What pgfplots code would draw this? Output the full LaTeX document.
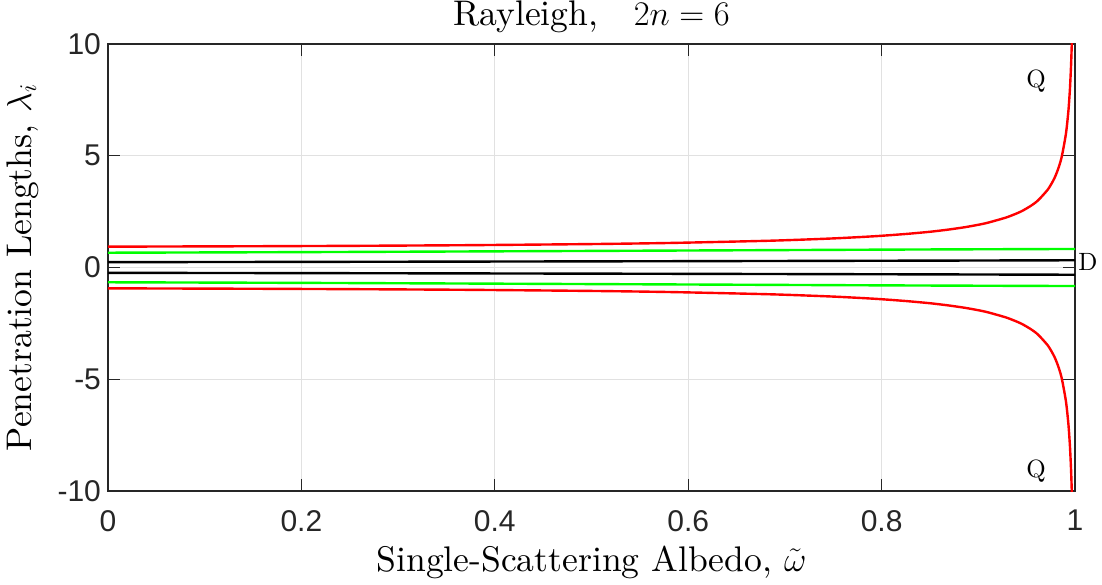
\documentclass[border=0pt]{standalone}
\usepackage{fontspec}
\usepackage{pgfplots}
\usepackage{pgfplotstable}
\pgfplotsset{compat=1.18}
\newfontfamily\tickfont{Liberation Sans}
\newfontfamily\lmten{lmroman10-regular.otf}
\definecolor{axgray}{RGB}{38,38,38}
\definecolor{gridgray}{RGB}{225,225,225}
\definecolor{mred}{RGB}{255,0,0}
\definecolor{mgreen}{RGB}{0,255,0}

\pgfplotstableread{
w lam
0 0.9325
0.1404 0.95
0.2561 0.97
0.3762 1.0
0.5026 1.05
0.5839 1.1
0.6859 1.2
0.7493 1.3
0.7932 1.4
0.8250 1.5
0.8503 1.6
0.8697 1.7
0.8857 1.8
0.8986 1.9
0.9095 2.0
0.9297 2.25
0.9439 2.5
0.9540 2.75
0.9617 3.0
0.9721 3.5
0.97878 4.0
0.98329 4.5
0.98651 5.0
0.99067 6.0
0.99316 7.0
0.99477 8.0
0.99587 9.0
0.99666 10.0
0.99724 11.0
0.99768 12.0
}\redtab

\pgfplotstableread{
w lam
0 0.6612
0.1431 0.68
0.2734 0.70
0.5438 0.75
0.8062 0.80
0.9335 0.82
1 0.829
}\greentab

\pgfplotstableread{
w lam
0 0.2386
0.1770 0.25
0.3168 0.26
0.5623 0.28
0.7742 0.30
0.8712 0.31
0.9638 0.32
1 0.324
}\blacktab

\begin{document}
\begin{tikzpicture}
\begin{axis}[
  scale only axis, width=483.5pt, height=223.5pt,
  xmin=0, xmax=1, ymin=-10, ymax=10,
  xtick={0,0.2,0.4,0.6,0.8,1}, xticklabels={0,0.2,0.4,0.6,0.8,1},
  ytick={-10,-5,0,5,10}, yticklabels={-10,-5,0,5,10},
  tick align=inside, major tick length=6pt,
  every tick/.style={axgray, line width=0.5pt},
  axis line style={axgray, line width=0.6pt},
  grid=major, grid style={gridgray, line width=0.5pt},
  ticklabel style={font=\tickfont\fontsize{15}{18}\selectfont, text=axgray},
  xticklabel style={yshift=-6pt},
  title={Rayleigh,\quad $2n = 6$},
  title style={font=\lmten\fontsize{17.8}{21}\selectfont, at={(axis description cs:0.5,1.0135)}, anchor=base},
  xlabel={Single-Scattering Albedo, $\tilde{\omega}$},
  xlabel style={font=\lmten\fontsize{17.8}{21}\selectfont, at={(axis description cs:0.5,-0.1812)}, anchor=base},
  ylabel={Penetration Lengths, $\lambda_i$},
  ylabel style={font=\lmten\fontsize{17.8}{21}\selectfont, at={(axis description cs:-0.0796,0.5)}, anchor=base},
  clip mode=individual,
]
\addplot[mred, line width=1.2pt, smooth, tension=0.4] table[x=w, y=lam] {\redtab};
\addplot[mred, line width=1.2pt, smooth, tension=0.4] table[x=w, y expr=-\thisrow{lam}] {\redtab};
\addplot[mgreen, line width=1.2pt, smooth, tension=0.5] table[x=w, y=lam] {\greentab};
\addplot[mgreen, line width=1.2pt, smooth, tension=0.5] table[x=w, y expr=-\thisrow{lam}] {\greentab};
\addplot[black, line width=1.2pt, smooth, tension=0.5] table[x=w, y=lam] {\blacktab};
\addplot[black, line width=1.2pt, smooth, tension=0.5] table[x=w, y expr=-\thisrow{lam}] {\blacktab};
\node[font=\lmten\fontsize{12.5}{14}\selectfont] at (axis cs:0.9597,8.35) {Q};
\node[font=\lmten\fontsize{12.5}{14}\selectfont] at (axis cs:0.9597,-9.1) {Q};
\node[font=\lmten\fontsize{12.5}{14}\selectfont] at (axis cs:1.0134,0.27) {D};
\coordinate (sw) at (rel axis cs:0,0);
\end{axis}
\pgfresetboundingbox
\path[use as bounding box] ([xshift=-54pt,yshift=-46.5pt]sw) rectangle ([xshift=497pt,yshift=245.5pt]sw);
\end{tikzpicture}
\end{document}
